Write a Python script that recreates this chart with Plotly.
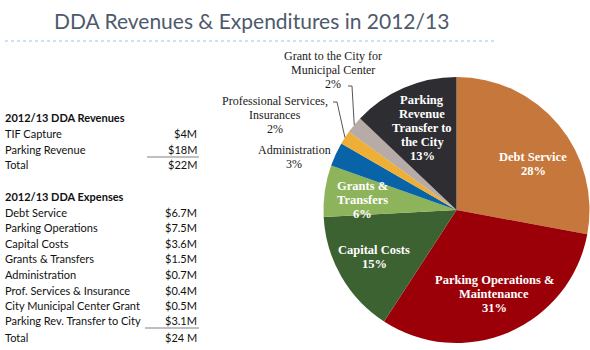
import math
import plotly.graph_objects as go

W, H = 590, 350

# ---------------- data ----------------
rev_labels = ["TIF Capture", "Parking Revenue"]
rev_values = ["$4M", "$18M"]
rev_total = "$22M"

exp_table_labels = ["Debt Service", "Parking Operations", "Capital Costs", "Grants & Transfers",
                    "Administration", "Prof. Services & Insurance", "City Municipal Center Grant",
                    "Parking Rev. Transfer to City"]
exp_table_values = ["$6.7M", "$7.5M", "$3.6M", "$1.5M", "$0.7M", "$0.4M", "$0.5M", "$3.1M"]
exp_total = "$24 M"

pie_labels = ["Debt Service", "Parking Operations &<br>Maintenance", "Capital Costs",
              "Grants &<br>Transfers", "Administration", "Professional Services,<br>Insurances",
              "Grant to the City for<br>Municipal Center", "Parking<br>Revenue<br>Transfer to<br>the City"]
pie_values = [6.7, 7.5, 3.6, 1.5, 0.7, 0.4, 0.5, 3.1]
pie_colors = ["#C6773B", "#9B0008", "#3D6232", "#8DB35B", "#0863A7", "#EFAE35", "#B6ABA7", "#2E2D31"]


def px(x):
    return x / W


def py(y):
    return 1 - y / H


# ---------------- layout positions ----------------
cx, cy, R = 456.5, 210.0, 133.0
inside_pos = {0: (533, 164), 1: (494, 294), 2: (374, 257), 3: (362, 200), 7: (422, 128)}
outside_pos = {4: (294, 157), 5: (275, 115), 6: (333, 70)}
leader_anchor = {5: (333, 102), 6: (348, 86)}
LINE_GAP_IN = 14
LINE_GAP_OUT = 14

fig = go.Figure(go.Pie(
    labels=pie_labels, values=pie_values, sort=False, direction="clockwise", rotation=0,
    marker=dict(colors=pie_colors, line=dict(width=0)),
    textinfo="none", hoverinfo="label+percent", showlegend=False,
    domain=dict(x=[px(cx - R), px(cx + R)], y=[py(cy + R), py(cy - R)]),
))

total = sum(pie_values)
pcts = [round(100 * v / total) for v in pie_values]

annotations = []
shapes = []


def ann(x, y, text, font, xanchor="center"):
    annotations.append(dict(x=px(x), y=py(y), xref="paper", yref="paper", text=text,
                            showarrow=False, align="center", xanchor=xanchor, yanchor="middle",
                            font=font))


def multiline(x, y, lines, font, gap, bold=False):
    n = len(lines)
    for k, ln in enumerate(lines):
        yy = y + (k - (n - 1) / 2) * gap
        ann(x, yy, f"<b>{ln}</b>" if bold else ln, font)


# pie labels
for i, lab in enumerate(pie_labels):
    lines = lab.split("<br>") + [f"{pcts[i]}%"]
    if i in inside_pos:
        x, y = inside_pos[i]
        multiline(x, y, lines, dict(family="Liberation Serif", size=12.5, color="white"),
                  LINE_GAP_IN, bold=True)
    else:
        x, y = outside_pos[i]
        multiline(x, y, lines, dict(family="Liberation Serif", size=12, color="#1a1a1a"),
                  LINE_GAP_OUT)

# leader lines computed from slice geometry
cum = 0.0
for i, v in enumerate(pie_values):
    mid = (cum + v / 2) / total
    cum += v
    if i in leader_anchor:
        ang = 2 * math.pi * mid
        rx = cx + R * math.sin(ang)
        ry = cy - R * math.cos(ang)
        ax, ay = leader_anchor[i]
        path = f"M {px(rx)},{py(ry)} L {px(ax + 4)},{py(ay)} L {px(ax)},{py(ay)}"
        shapes.append(dict(type="path", xref="paper", yref="paper", path=path,
                           line=dict(color="#555555", width=1)))

# title
ann(251, 20, "DDA Revenues & Expenditures in 2012/13", dict(family="Lato", size=21, color="#4E5A6C"))

# dotted separator
shapes.append(dict(type="line", xref="paper", yref="paper", x0=px(5), x1=px(497), y0=py(41), y1=py(41),
                   line=dict(color="#9DC3E6", width=1, dash="dot")))

# left table
tfont = dict(family="Lato", size=11, color="#111111")
LX, RX = 3, 199


def row(label, value, y, bold=False):
    t = f"<b>{label}</b>" if bold else label
    ann(LX, y, t, tfont, xanchor="left")
    if value:
        ann(RX, y, value, tfont, xanchor="right")


row("2012/13 DDA Revenues", None, 117, bold=True)
rev_y = [133, 149]
for lab, val, y in zip(rev_labels, rev_values, rev_y):
    row(lab, val, y)
row("Total", rev_total, 164)

row("2012/13 DDA Expenses", None, 196, bold=True)
exp_y = [212, 227, 243, 258, 274, 290, 305, 320]
for lab, val, y in zip(exp_table_labels, exp_table_values, exp_y):
    row(lab, val, y)
row("Total", exp_total, 337)

shapes.append(dict(type="line", xref="paper", yref="paper", x0=px(147), x1=px(199), y0=py(157), y1=py(157),
                   line=dict(color="#808080", width=1)))
shapes.append(dict(type="line", xref="paper", yref="paper", x0=px(145), x1=px(199), y0=py(328), y1=py(328),
                   line=dict(color="#808080", width=1)))

fig.update_layout(width=W, height=H, margin=dict(l=0, r=0, t=0, b=0),
                  paper_bgcolor="white", plot_bgcolor="white",
                  annotations=annotations, shapes=shapes)

fig.write_html("out.html")
